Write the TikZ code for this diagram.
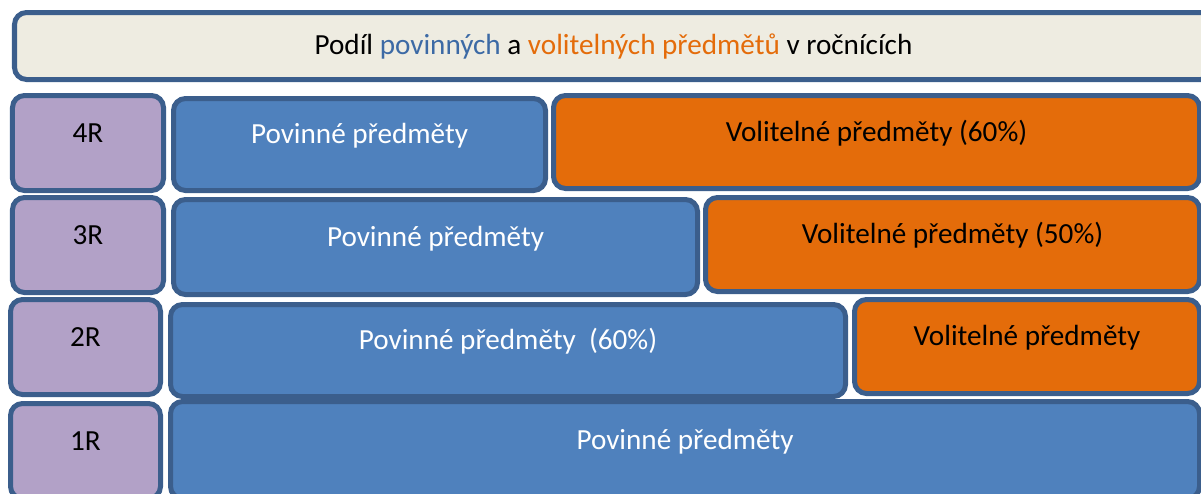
\documentclass[tikz,border=0pt]{standalone}
\usepackage{fontspec}
\setmainfont{Carlito}
\usepackage{tikz}
\usetikzlibrary{positioning}
\definecolor{rim}{HTML}{3B5E8C}
\definecolor{pblue}{HTML}{4F81BD}
\definecolor{vorange}{HTML}{E46C0A}
\definecolor{lilac}{HTML}{B2A1C7}
\definecolor{paper}{HTML}{EEECE1}
\definecolor{tblue}{HTML}{3C6AA5}

\begin{document}
\begin{tikzpicture}[font=\fontsize{16.6}{19}\selectfont,
    box/.style={draw=rim, line width=0.1cm, rounded corners=0.24cm, inner sep=0pt,
      text height=0.4cm, text depth=0.43cm},
    lab/.style={box, fill=lilac, text=black},
    pov/.style={box, fill=pblue, text=white},
    vol/.style={box, fill=vorange, text=black}]
  \useasboundingbox (0,0) rectangle (24.02,9.86);
  \clip (0,0) rectangle (24.02,9.86);
          \node [box, fill=paper, text height=0.6cm, text depth=0.27cm, minimum width=23.96cm, minimum height=1.34cm] (T) at (12.27, 8.94)
            {Podíl \textcolor{tblue}{povinných} a \textcolor{vorange}{volitelných předmětů} v ročnících};
          \node [lab, minimum width=3.02cm, minimum height=1.90cm] (L4) at (1.76, 7.00) {4R};
          \node [pov, minimum width=7.44cm, minimum height=1.84cm] (M4) at (7.19, 6.97) {Povinné předměty};
          \node [vol, minimum width=12.92cm, minimum height=1.86cm] (R4) at (17.53, 7.02) {Volitelné předměty (60\%)};
          \node [lab, minimum width=3.02cm, minimum height=1.90cm] (L3) at (1.76, 4.96) {3R};
          \node [pov, minimum width=10.48cm, minimum height=1.90cm] (M3) at (8.71, 4.92) {Povinné předměty};
          \node [vol, minimum width=9.88cm, minimum height=1.88cm] (R3) at (19.05, 4.97) {Volitelné předměty (50\%)};
          \node [lab, minimum width=3.00cm, minimum height=1.90cm] (L2) at (1.71, 2.92) {2R};
          \node [pov, minimum width=13.50cm, minimum height=1.84cm] (M2) at (10.16, 2.85) {Povinné předměty~~(60\%)};
          \node [vol, minimum width=6.90cm, minimum height=1.88cm] (R2) at (20.54, 2.93) {Volitelné předměty};
          \node [lab, minimum width=3.00cm, minimum height=1.90cm] (L1) at (1.71, 0.84) {1R};
          \node [pov, minimum width=20.58cm, minimum height=1.94cm] (M1) at (13.70, 0.86) {Povinné předměty};
\end{tikzpicture}
\end{document}
